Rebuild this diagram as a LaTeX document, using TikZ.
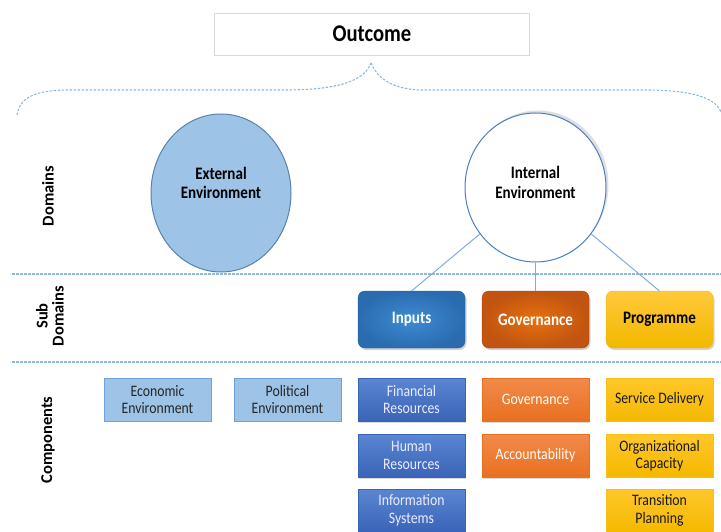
\documentclass[tikz,border=0pt]{standalone}
\usepackage{fontspec}
\setmainfont{Carlito}[FakeStretch = 0.86]
\newfontfamily\sidefont{Carlito}
\usetikzlibrary{positioning,shadows,shapes.geometric}

\definecolor{lightblu}{HTML}{9DC3E6}
\definecolor{lightbluedge}{HTML}{6FA3D8}
\definecolor{dashblu}{HTML}{8DB8E2}
\definecolor{linkblu}{HTML}{7FAEDD}
\definecolor{ringblu}{HTML}{4A7EC8}
\definecolor{inpblu}{HTML}{2B6CB0}
\definecolor{inpblulight}{HTML}{3D8CD4}
\definecolor{govor}{HTML}{C05410}
\definecolor{govorlight}{HTML}{E8700F}
\definecolor{progyel}{HTML}{F2B800}
\definecolor{progyellight}{HTML}{FFC93A}
\definecolor{compblu}{HTML}{3A64B8}
\definecolor{compblulight}{HTML}{5A86D2}
\definecolor{compor}{HTML}{E8701F}
\definecolor{comporlight}{HTML}{F28A4A}
\definecolor{compyel}{HTML}{F5B800}
\definecolor{compyellight}{HTML}{FFC72A}

\begin{document}
\begin{tikzpicture}[x = 1pt, y = -1pt,
        sepline/.style = {dashblu, line width = 1.1pt, dash pattern = on 2.5pt off 1.5pt},
        link/.style = {draw = linkblu, line width = 1pt},
        domcircle/.style = {ellipse, line width = 1pt},
        domtext/.style = {align = center, font = \fontsize{17.5}{19.5}\selectfont\bfseries},
        subdom/.style = {rounded corners = 7pt, minimum width = 107pt, minimum height = 57pt, outer sep = 0pt,
            font = \fontsize{17.5}{20}\selectfont\bfseries,
            drop shadow = {shadow xshift = 1.5pt, shadow yshift = -2pt, opacity = .35}},
        comp/.style = {minimum width = 107pt, minimum height = 43pt, inner sep = 2pt, outer sep = 0pt,
            align = center, font = \fontsize{16}{17.5}\selectfont},
        side/.style = {rotate = 90, align = center, font = \sidefont\fontsize{16.5}{16}\selectfont\bfseries}]
        \useasboundingbox (0,0) rectangle (721,532);

        % outcome and brace
        \node [draw = black!15, minimum width = 315pt, minimum height = 42pt,
            font = \fontsize{24}{28}\selectfont\bfseries] (out) at (372,34) {Outcome};
        \coordinate (tip) at (371,63);
        \coordinate (bl) at (17,115);
        \coordinate (br) at (721,112);
        \draw [sepline] (bl) .. controls (20,95) and (40,90) .. (70,90) -- (285,90)
            .. controls (340,90) and (365,80) .. (tip);
        \draw [sepline] (tip) .. controls (378,80) and (395,89) .. (420,90) -- (645,90)
            .. controls (690,90) and (715,97) .. (br);

        % row labels and separators
        \node [side] (dom) at (48,196) {Domains};
        \node [side] (sub) at (50,316) {Sub\\Domains};
        \node [side] (com) at (48,440) {Components};
        \coordinate (s1l) at (12,274);
        \coordinate (s1r) at (721,274);
        \coordinate (s2l) at (12,362);
        \coordinate (s2r) at (721,362);
        \draw [sepline] (s1l) -- (s1r);
        \draw [sepline] (s2l) -- (s2r);

        % domains
        \node [domcircle, minimum width = 140pt, minimum height = 158pt, fill = lightblu, draw = lightbluedge!80!black]
            (ext) at (221,193) {};
        \node [domcircle, minimum width = 141pt, minimum height = 149pt, fill = white, draw = ringblu,
            drop shadow = {shadow xshift = 2.5pt, shadow yshift = 2.5pt, opacity = .25}]
            (int) at (535.5,187.5) {};
        \node [domtext] (extlbl) at ([yshift = 10pt] ext.center) {External\\Environment};
        \node [domtext] (intlbl) at ([yshift = 5pt] int.center) {Internal\\Environment};

        % sub domains
        \node [subdom, draw = govor!85!black, inner color = govorlight, outer color = govor, text = white]
            (gov) at (535.5,319.5) {Governance};
        \node [subdom, draw = inpblu!85!black, inner color = inpblulight, outer color = inpblu, text = white]
            (inp) [left = 17pt of gov] {Inputs};
        \node [subdom, draw = progyel, top color = progyellight, bottom color = progyel, text = black]
            (prog) [right = 17pt of gov] {Programme};

        \path
            (int) edge [link] (inp.north)
                  edge [link] (gov.north)
                  edge [link] (prog.north);

        % components
        \tikzset{
            lbcomp/.style = {comp, fill = lightblu, draw = lightbluedge, text = black!85},
            bcomp/.style = {comp, top color = compblulight, bottom color = compblu, draw = compblu,
                text = white!92!blue, drop shadow = {shadow xshift = 1pt, shadow yshift = -1.5pt, opacity = .3}},
            ocomp/.style = {comp, top color = comporlight, bottom color = compor, draw = compor,
                text = white, drop shadow = {shadow xshift = 1pt, shadow yshift = -1.5pt, opacity = .3}},
            ycomp/.style = {comp, top color = compyellight, bottom color = compyel, draw = compyel!90!white,
                text = black!90}
        }
        \node [bcomp] (fin) [below = 30pt of inp] {Financial\\Resources};
        \node [bcomp] (hum) [below = 13pt of fin] {Human\\Resources};
        \node [bcomp] (info) [below = 12pt of hum] {Information\\Systems};
        \node [ocomp] (cgov) [below = 30pt of gov] {Governance};
        \node [ocomp] (acc) [below = 13pt of cgov] {Accountability};
        \node [ycomp] (serv) [below = 30pt of prog] {Service Delivery};
        \node [ycomp] (org) [below = 13pt of serv] {Organizational\\Capacity};
        \node [ycomp] (trans) [below = 12pt of org] {Transition\\Planning};
        \node [lbcomp] (pol) [left = 17pt of fin] {Political\\Environment};
        \node [lbcomp] (eco) [left = 23pt of pol] {Economic\\Environment};
\end{tikzpicture}
\end{document}
